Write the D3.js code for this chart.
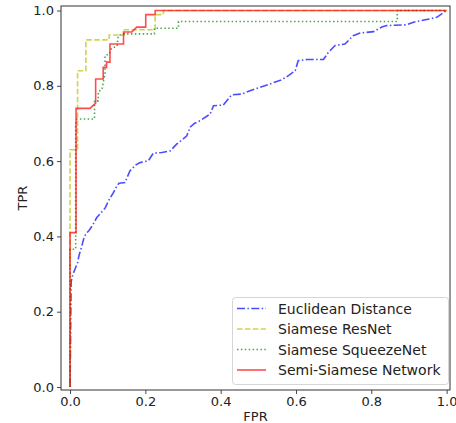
<!DOCTYPE html>
<html>
<head>
<meta charset="utf-8">
<script src="https://cdn.jsdelivr.net/npm/d3@7"></script>
<style>
  html, body { margin: 0; padding: 0; background: #fff; }
  svg { display: block; font-family: "DejaVu Sans", sans-serif; }
</style>
</head>
<body>
<svg id="chart" width="456" height="423"></svg>
<script>
// ---- data (FPR, TPR) ----
const euclideanFPR = [0, 0.002, 0.003, 0.008, 0.012, 0.02, 0.024, 0.03, 0.038, 0.045, 0.05, 0.06, 0.071, 0.08, 0.093, 0.105, 0.115, 0.125, 0.13, 0.146, 0.159, 0.175, 0.186, 0.208, 0.221, 0.244, 0.266, 0.283, 0.31, 0.319, 0.33, 0.345, 0.372, 0.381, 0.407, 0.429, 0.456, 0.478, 0.505, 0.531, 0.562, 0.58, 0.598, 0.606, 0.629, 0.673, 0.686, 0.704, 0.73, 0.752, 0.77, 0.806, 0.828, 0.841, 0.894, 0.912, 0.947, 0.974, 1];
const euclideanTPR = [0, 0.19, 0.28, 0.30, 0.31, 0.33, 0.35, 0.37, 0.40, 0.41, 0.415, 0.43, 0.45, 0.46, 0.475, 0.50, 0.516, 0.535, 0.541, 0.543, 0.574, 0.59, 0.596, 0.601, 0.621, 0.623, 0.627, 0.645, 0.667, 0.69, 0.70, 0.707, 0.725, 0.747, 0.749, 0.776, 0.778, 0.787, 0.796, 0.805, 0.816, 0.827, 0.84, 0.867, 0.87, 0.87, 0.889, 0.907, 0.911, 0.933, 0.94, 0.944, 0.956, 0.96, 0.962, 0.969, 0.976, 0.982, 1];

const resnetFPR = [0, 0, 0.02, 0.02, 0.042, 0.042, 0.104, 0.104, 0.144, 0.144, 0.226, 0.226, 0.248, 0.248, 1];
const resnetTPR = [0, 0.63, 0.63, 0.84, 0.84, 0.922, 0.922, 0.935, 0.935, 0.949, 0.949, 0.989, 0.989, 1, 1];

const squeezeFPR = [0, 0, 0.015, 0.015, 0.018, 0.065, 0.065, 0.075, 0.075, 0.085, 0.09, 0.093, 0.093, 0.105, 0.11, 0.125, 0.128, 0.14, 0.224, 0.224, 0.288, 0.288, 0.869, 0.869, 1];
const squeezeTPR = [0, 0.366, 0.366, 0.70, 0.712, 0.712, 0.76, 0.76, 0.785, 0.79, 0.82, 0.83, 0.88, 0.885, 0.90, 0.905, 0.933, 0.938, 0.938, 0.953, 0.953, 0.971, 0.971, 1, 1];

const semiFPR = [0, 0, 0.016, 0.016, 0.053, 0.068, 0.068, 0.088, 0.088, 0.097, 0.097, 0.106, 0.106, 0.142, 0.142, 0.164, 0.177, 0.201, 0.201, 0.226, 0.226, 1];
const semiTPR = [0, 0.41, 0.41, 0.74, 0.74, 0.754, 0.818, 0.818, 0.849, 0.849, 0.863, 0.863, 0.911, 0.911, 0.943, 0.943, 0.956, 0.956, 0.989, 0.989, 1, 1];

const seriesNames = ["Euclidean Distance", "Siamese ResNet", "Siamese SqueezeNet", "Semi-Siamese Network"];
const xTicks = [0, 0.2, 0.4, 0.6, 0.8, 1.0];
const yTicks = [0, 0.2, 0.4, 0.6, 0.8, 1.0];

// ---- styles ----
const styles = [
  { color: "#0000ff", dash: "8,2.4,1.5,2.4" },
  { color: "#bfbf00", dash: "5.5,2.4" },
  { color: "#008000", dash: "1.5,2.4" },
  { color: "#ff0000", dash: null }
];

const series = [
  { name: seriesNames[0], x: euclideanFPR, y: euclideanTPR },
  { name: seriesNames[1], x: resnetFPR, y: resnetTPR },
  { name: seriesNames[2], x: squeezeFPR, y: squeezeTPR },
  { name: seriesNames[3], x: semiFPR, y: semiTPR }
];

const svg = d3.select("#chart");
const padL = 61, padR = 450, padT = 6, padB = 390;

const x = d3.scaleLinear().domain([-0.024, 1.009]).range([padL, padR]);
const y = d3.scaleLinear().domain([-0.008, 1.012]).range([padB, padT]);

// lines
const line = d3.line().x(d => x(d[0])).y(d => y(d[1]));
const plot = svg.append("g");
series.forEach((s, i) => {
  const pts = s.x.map((v, k) => [v, s.y[k]]);
  plot.append("path")
    .datum(pts)
    .attr("d", line)
    .attr("fill", "none")
    .attr("stroke", styles[i].color)
    .attr("stroke-opacity", 0.7)
    .attr("stroke-width", 1.6)
    .attr("stroke-dasharray", styles[i].dash);
});

// axes
const xAxis = d3.axisBottom(x).tickValues(xTicks).tickFormat(d3.format(".1f")).tickSize(4).tickPadding(3);
const yAxis = d3.axisLeft(y).tickValues(yTicks).tickFormat(d3.format(".1f")).tickSize(4).tickPadding(3);

const gx = svg.append("g").attr("transform", `translate(0,${padB})`).call(xAxis);
const gy = svg.append("g").attr("transform", `translate(${padL},0)`).call(yAxis);
[gx, gy].forEach(g => {
  g.select(".domain").remove();
  g.selectAll("text").attr("font-family", "DejaVu Sans, sans-serif").attr("font-size", 13).attr("fill", "#222");
  g.selectAll("line").attr("stroke", "#333").attr("stroke-width", 0.9);
});

// frame
svg.append("rect")
  .attr("x", padL).attr("y", padT)
  .attr("width", padR - padL).attr("height", padB - padT)
  .attr("fill", "none").attr("stroke", "#333").attr("stroke-width", 1);

// axis labels
svg.append("text").attr("x", (padL + padR) / 2).attr("y", 421)
  .attr("text-anchor", "middle").attr("font-size", 13).attr("fill", "#222").text("FPR");
svg.append("text")
  .attr("transform", `translate(26.5,${(padT + padB) / 2}) rotate(-90)`)
  .attr("text-anchor", "middle").attr("font-size", 13).attr("fill", "#222").text("TPR");

// legend
const lg = svg.append("g");
lg.append("rect").attr("x", 232.5).attr("y", 297.5).attr("width", 216).attr("height", 87)
  .attr("rx", 3).attr("fill", "#fff").attr("fill-opacity", 0.8)
  .attr("stroke", "#d6d6d6").attr("stroke-width", 1);
const rowY = d3.scaleLinear().domain([0, 3]).range([308.5, 370]);
series.forEach((s, i) => {
  const cy = rowY(i);
  lg.append("line").attr("x1", 237).attr("x2", 266).attr("y1", cy).attr("y2", cy)
    .attr("stroke", styles[i].color).attr("stroke-opacity", 0.7)
    .attr("stroke-width", 1.6).attr("stroke-dasharray", styles[i].dash);
  lg.append("text").attr("x", 278).attr("y", cy).attr("dy", "0.36em")
    .attr("font-size", 14).attr("fill", "#222").text(s.name);
});
</script>
</body>
</html>
